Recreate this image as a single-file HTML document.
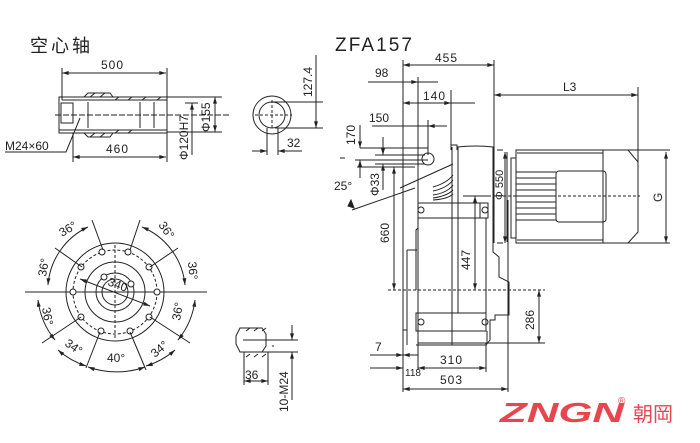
<!DOCTYPE html>
<html><head><meta charset="utf-8"><style>
html,body{margin:0;padding:0;background:#fff;}
svg{display:block}
text{font-family:"Liberation Sans","Noto Sans CJK SC",sans-serif;fill:#222}
</style></head><body>
<svg width="700" height="443" viewBox="0 0 700 443" xmlns="http://www.w3.org/2000/svg">
<defs>
<marker id="a" viewBox="0 0 10 6" refX="10" refY="3" markerWidth="8" markerHeight="4" orient="auto-start-reverse"><path d="M0,0L10,3L0,6z" fill="#222"/></marker>
</defs>
<g stroke="#222" stroke-width="1" fill="none">
<line x1="62" y1="68" x2="62" y2="100"/>
<line x1="167" y1="68" x2="167" y2="162"/>
<line x1="62" y1="73" x2="166" y2="73" marker-start="url(#a)" marker-end="url(#a)"/>
<rect x="59" y="97" width="108" height="36"/>
<line x1="59" y1="130" x2="167" y2="130"/>
<line x1="62" y1="100" x2="167" y2="100"/>
<line x1="88" y1="102" x2="88" y2="128"/>
<line x1="140" y1="102" x2="140" y2="128"/>
<line x1="154" y1="102" x2="154" y2="128"/>
<path d="M84,97 l4,-4 h22 l3,4 M84,133 l4,4 h22 l3,-4"/>
<path d="M90,97 l5,-4 M100,97 l5,-4 M115,100 l4,-3 M128,100 l4,-3 M142,100 l4,-3 M157,100 l4,-3"/>
<path d="M90,137 l5,-4 M100,137 l5,-4 M115,133 l4,-3 M128,133 l4,-3"/>
<rect x="61" y="103" width="12" height="20"/>
<line x1="55" y1="115" x2="230" y2="115" stroke-dasharray="6,2"/>
<line x1="167" y1="97" x2="222" y2="97"/>
<line x1="167" y1="132" x2="222" y2="132"/>
<line x1="215" y1="97" x2="215" y2="132" marker-start="url(#a)" marker-end="url(#a)"/>
<line x1="192" y1="103" x2="192" y2="155" marker-start="url(#a)"/>
<line x1="185" y1="103" x2="198" y2="103"/>
<line x1="73" y1="133" x2="73" y2="162"/>
<line x1="73" y1="157" x2="166" y2="157" marker-start="url(#a)" marker-end="url(#a)"/>
<polyline points="5,152 66,152 80,118"/>
<circle cx="272" cy="115" r="19"/>
<circle cx="272" cy="115" r="13"/>
<line x1="255" y1="115" x2="292" y2="115" stroke-dasharray="3,2"/>
<line x1="272" y1="100" x2="272" y2="130" stroke-dasharray="3,2"/>
<line x1="272" y1="102" x2="323" y2="102"/>
<line x1="275" y1="128" x2="323" y2="128"/>
<line x1="316" y1="55" x2="316" y2="128" marker-end="url(#a)"/>
<line x1="267" y1="128" x2="267" y2="155"/><line x1="278" y1="128" x2="278" y2="155"/>
<line x1="252" y1="151" x2="267" y2="151" marker-end="url(#a)"/>
<line x1="293" y1="151" x2="278" y2="151" marker-end="url(#a)"/>
<line x1="278" y1="151" x2="302" y2="151"/>
<line x1="25" y1="292" x2="207" y2="292"/>
<circle cx="115" cy="292" r="49"/>
<circle cx="115" cy="292" r="42" stroke-dasharray="3,2"/>
<circle cx="115" cy="292" r="30"/>
<circle cx="115" cy="292" r="19"/>
<circle cx="115" cy="292" r="13"/>
<line x1="115" y1="245" x2="115" y2="338" stroke-dasharray="3,2"/>
<line x1="73" y1="292" x2="157" y2="292" stroke-dasharray="3,2"/>
<line x1="80" y1="279" x2="150" y2="306" marker-start="url(#a)" marker-end="url(#a)"/>
<g fill="#fff">
<circle cx="157" cy="292" r="3"/><circle cx="149" cy="267" r="3"/><circle cx="128" cy="252" r="3"/>
<circle cx="102" cy="252" r="3"/><circle cx="81" cy="267" r="3"/><circle cx="73" cy="292" r="3"/>
<circle cx="81" cy="317" r="3"/><circle cx="101" cy="331" r="3"/><circle cx="130" cy="331" r="3"/><circle cx="149" cy="317" r="3"/>
<circle cx="104" cy="277" r="3"/><circle cx="131" cy="284" r="3"/>
</g>
<line x1="92" y1="220" x2="103" y2="250"/><line x1="140" y1="220" x2="130" y2="250"/>
<line x1="55" y1="248" x2="82" y2="267"/><line x1="178" y1="248" x2="150" y2="267"/>
<line x1="42" y1="343" x2="81" y2="317"/><line x1="190" y1="343" x2="150" y2="317"/>
<line x1="86" y1="368" x2="100" y2="332"/><line x1="146" y1="370" x2="130" y2="332"/>
<path d="M48,285 A70,70 0 0 1 88,227" marker-start="url(#a)" marker-end="url(#a)"/>
<path d="M142,227 A70,70 0 0 1 185,285" marker-start="url(#a)" marker-end="url(#a)"/>
<path d="M38,300 A78,78 0 0 0 55,340" marker-start="url(#a)" marker-end="url(#a)"/>
<path d="M195,300 A78,78 0 0 1 178,340" marker-start="url(#a)" marker-end="url(#a)"/>
<path d="M58,350 A80,80 0 0 0 86,366" marker-start="url(#a)" marker-end="url(#a)"/>
<path d="M175,350 A80,80 0 0 1 146,366" marker-start="url(#a)" marker-end="url(#a)"/>
<path d="M88,367 A85,85 0 0 0 145,367" marker-start="url(#a)" marker-end="url(#a)"/>
<path d="M236,336 l4,-8 h22 l4,6 v12 l-4,6 h-22 l-4,-8 z"/>
<line x1="243" y1="340" x2="272" y2="340"/><line x1="243" y1="352" x2="272" y2="352"/>
<line x1="272" y1="346" x2="275" y2="346" stroke-dasharray="2,2"/>
<path d="M246,331 l4,-3 M254,331 l4,-3 M262,331 l4,-3 M246,357 l4,-3 M254,357 l4,-3 M262,357 l4,-3"/>
<line x1="244" y1="352" x2="244" y2="385"/><line x1="268" y1="352" x2="268" y2="385"/>
<line x1="244" y1="381" x2="268" y2="381" marker-start="url(#a)" marker-end="url(#a)"/>
<line x1="272" y1="340" x2="298" y2="340"/><line x1="272" y1="352" x2="298" y2="352"/>
<line x1="292" y1="325" x2="292" y2="340" marker-end="url(#a)"/>
<line x1="292" y1="368" x2="292" y2="352" marker-end="url(#a)"/>
<line x1="292" y1="352" x2="292" y2="400"/>
<line x1="403" y1="60" x2="403" y2="392"/>
<line x1="494" y1="60" x2="494" y2="152"/>
<line x1="403" y1="65" x2="494" y2="65" marker-start="url(#a)" marker-end="url(#a)"/>
<line x1="368" y1="82" x2="418" y2="82" marker-end="url(#a)"/>
<line x1="418" y1="82" x2="438" y2="82"/>
<line x1="418" y1="77" x2="418" y2="370"/>
<line x1="403" y1="103" x2="451" y2="103" marker-start="url(#a)" marker-end="url(#a)"/>
<line x1="451" y1="103" x2="475" y2="103"/>
<line x1="451" y1="90" x2="451" y2="148"/>
<line x1="494" y1="95" x2="638" y2="95" marker-start="url(#a)" marker-end="url(#a)"/>
<line x1="638" y1="87" x2="638" y2="163"/>
<line x1="372" y1="126" x2="428" y2="126"/>
<line x1="447" y1="126" x2="428" y2="126" marker-end="url(#a)"/>
<line x1="428" y1="120" x2="428" y2="155"/>
<line x1="360" y1="148" x2="428" y2="148"/>
<line x1="355" y1="160" x2="428" y2="160"/>
<line x1="357" y1="167" x2="415" y2="167"/>
<line x1="360" y1="125" x2="360" y2="148" marker-end="url(#a)"/>
<line x1="360" y1="178" x2="360" y2="160" marker-end="url(#a)"/>
<line x1="383" y1="137" x2="383" y2="155" marker-end="url(#a)"/>
<line x1="383" y1="190" x2="383" y2="164" marker-end="url(#a)"/>
<line x1="375" y1="155" x2="425" y2="155"/><line x1="375" y1="164" x2="425" y2="164"/>
<line x1="394" y1="167" x2="394" y2="290" marker-start="url(#a)" marker-end="url(#a)"/>
<circle cx="428" cy="159" r="6"/>
<line x1="400" y1="188" x2="453" y2="164"/>
<line x1="352" y1="210" x2="415" y2="188"/>
<path d="M351,200 l3,8 -6,-2z" fill="#222"/>
<line x1="340" y1="158" x2="345" y2="158"/>
<path d="M451,150 v-5 h6 v5 M457,147 q20,-2 36,0 v105"/>
<line x1="452" y1="147" x2="452" y2="345"/>
<line x1="458" y1="147" x2="458" y2="313"/>
<path d="M418,203 h62 v15 h-62 z"/>
<circle cx="421" cy="210" r="3"/><circle cx="485" cy="210" r="3"/>
<path d="M480,203 h8 v15 h-8"/>
<path d="M418,218 v10 l-2,2 v60"/>
<path d="M407,250 h10 M407,250 v95 M403,330 h4"/>
<path d="M486,218 v95"/>
<path d="M493,250 v2 l6,5 v20 l10,5 v33 h-14 v5 h-5 v20 l-4,5 h-70"/>
<path d="M416,313 h70 v18 h-70 z"/>
<circle cx="421" cy="322" r="3"/><circle cx="485" cy="322" r="3"/>
<path d="M418,331 v13 M487,331 v13"/>
<path d="M418,343 h85"/>
<path d="M453,175 q-6,8 -20,12 M453,180 q-6,8 -20,11 M453,185 q-6,8 -20,10 M453,190 q-6,6 -20,8 M453,194 q-5,5 -20,6"/>
<line x1="494" y1="150" x2="494" y2="243"/>
<path d="M497,150 h6 M497,243 h6 M507,152 v90"/>
<line x1="505" y1="152" x2="505" y2="243" marker-start="url(#a)" marker-end="url(#a)"/>
<path d="M511,158 h5 v80 h-5 z"/>
<path d="M516,150 h112 l10,12 v70 l-10,11 h-112 z"/>
<line x1="603" y1="150" x2="603" y2="243"/>
<line x1="517" y1="153" x2="603" y2="153"/><line x1="517" y1="240" x2="603" y2="240"/>
<path d="M516,172 h40 M516,178 h40 M516,184 h40 M516,190 h40 M516,196 h40 M516,202 h40 M516,208 h40 M516,214 h40 M516,220 h40"/>
<rect x="556" y="171" width="50" height="51" rx="3"/>
<line x1="468" y1="196" x2="640" y2="196" stroke-dasharray="3,2"/>
<line x1="628" y1="150" x2="670" y2="150"/><line x1="628" y1="243" x2="670" y2="243"/>
<line x1="666" y1="152" x2="666" y2="243" marker-start="url(#a)" marker-end="url(#a)"/>
<line x1="463" y1="196" x2="490" y2="196"/>
<line x1="475" y1="196" x2="475" y2="290" marker-start="url(#a)" marker-end="url(#a)"/>
<line x1="388" y1="290" x2="545" y2="290" stroke-dasharray="3,2"/>
<line x1="487" y1="343" x2="545" y2="343"/>
<line x1="539" y1="290" x2="539" y2="343" marker-start="url(#a)" marker-end="url(#a)"/>
<line x1="370" y1="355" x2="403" y2="355" marker-end="url(#a)"/>
<line x1="418" y1="355" x2="403" y2="355" marker-end="url(#a)"/>
<line x1="370" y1="368" x2="403" y2="368" marker-end="url(#a)"/>
<line x1="418" y1="368" x2="486" y2="368" marker-start="url(#a)" marker-end="url(#a)"/>
<line x1="486" y1="343" x2="486" y2="372"/>
<line x1="508" y1="200" x2="508" y2="392"/>
<line x1="403" y1="389" x2="508" y2="389" marker-start="url(#a)" marker-end="url(#a)"/>
</g>
<text x="30" y="52" font-size="18" textLength="60">空心轴</text>
<text x="335" y="51" font-size="19" textLength="77">ZFA157</text>
<text x="101" y="69" font-size="12" letter-spacing="1">500</text>
<text x="106" y="153" font-size="12" letter-spacing="1">460</text>
<text x="5" y="150" font-size="12">M24×60</text>
<text transform="translate(188,160) rotate(-90)" font-size="12">Φ120H7</text>
<text transform="translate(210,132) rotate(-90)" font-size="12">Φ155</text>
<text transform="translate(312,97) rotate(-90)" font-size="12">127.4</text>
<text x="287" y="147" font-size="12">32</text>
<text transform="translate(62,237) rotate(-30)" font-size="12">36°</text>
<text transform="translate(158,225) rotate(55)" font-size="12">36°</text>
<text transform="translate(46,277) rotate(-80)" font-size="12">36°</text>
<text transform="translate(188,262) rotate(85)" font-size="12">36°</text>
<text transform="translate(42,308) rotate(80)" font-size="12">36°</text>
<text transform="translate(180,321) rotate(-80)" font-size="12">36°</text>
<text transform="translate(64,345) rotate(35)" font-size="12">34°</text>
<text transform="translate(155,358) rotate(-40)" font-size="12">34°</text>
<text x="107" y="362" font-size="12">40°</text>
<text transform="translate(107,285) rotate(20)" font-size="12">340</text>
<text x="245" y="379" font-size="12">36</text>
<text transform="translate(288,412) rotate(-90)" font-size="12">10-M24</text>
<text x="435" y="62" font-size="12" letter-spacing="1">455</text>
<text x="375" y="77" font-size="12">98</text>
<text x="423" y="100" font-size="12" letter-spacing="1">140</text>
<text x="369" y="122" font-size="12">150</text>
<text x="563" y="91" font-size="12">L3</text>
<text transform="translate(355,145) rotate(-90)" font-size="12">170</text>
<text transform="translate(379,196) rotate(-90)" font-size="12">Φ33</text>
<text x="334" y="190" font-size="12">25°</text>
<text transform="translate(389,243) rotate(-90)" font-size="12">660</text>
<text transform="translate(470,270) rotate(-90)" font-size="12">447</text>
<text transform="translate(503,200) rotate(-90)" font-size="11">Φ 550</text>
<text transform="translate(662,202) rotate(-90)" font-size="12">G</text>
<text transform="translate(534,330) rotate(-90)" font-size="12">286</text>
<text x="375" y="351" font-size="12">7</text>
<text x="440" y="364" font-size="12" letter-spacing="1">310</text>
<text x="405" y="376" font-size="10">118</text>
<text x="440" y="384" font-size="12" letter-spacing="1">503</text>
<text x="500" y="422" font-size="28" font-weight="bold" font-style="italic" style="fill:#e8454f" textLength="124" lengthAdjust="spacingAndGlyphs">ZNGN</text>
<text x="618" y="404" font-size="10" style="fill:#e8454f">®</text>
<text x="633" y="421" font-size="20" style="fill:#e8454f">朝岡</text>
</svg>
</body></html>
